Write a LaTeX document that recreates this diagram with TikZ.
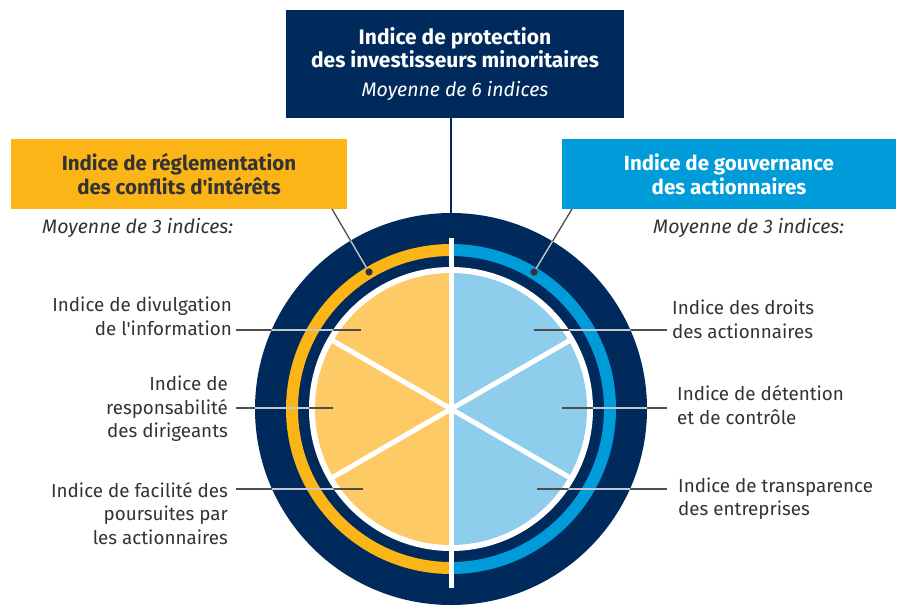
\documentclass[tikz,border=0pt]{standalone}
\usepackage{fontspec}
\setmainfont{Fira Sans}[Ligatures=TeXOff]
\usetikzlibrary{calc}
\definecolor{navy}{HTML}{002A5C}
\definecolor{ringY}{HTML}{FBB517}
\definecolor{ringB}{HTML}{009CDA}
\definecolor{pieY}{HTML}{FDCA66}
\definecolor{pieB}{HTML}{8ECDEC}
\definecolor{txt}{HTML}{333333}
\definecolor{lead}{HTML}{4D4D4D}
\definecolor{leadlight}{HTML}{C4C8CF}
\tikzset{
  titlebox/.style={fill=navy,text=white,minimum width=338pt,minimum height=108pt,align=center,inner sep=0pt,
    font=\fontsize{21}{23.5}\selectfont},
  yellowbox/.style={fill=ringY,text=txt,minimum width=336pt,minimum height=70pt,align=center,inner sep=0pt,
    font=\fontsize{20.5}{24}\selectfont\bfseries},
  bluebox/.style={fill=ringB,text=white,minimum width=334pt,minimum height=70pt,align=center,inner sep=0pt,
    font=\fontsize{20.5}{24}\selectfont\bfseries},
  avg/.style={text=txt,inner sep=0pt,font=\fontsize{19.5}{22}\selectfont\itshape},
  lablL/.style={text=txt,inner sep=0pt,align=right,anchor=east,font=\fontsize{18.8}{23.5}\selectfont},
  lablR/.style={text=txt,inner sep=0pt,align=left,anchor=west,font=\fontsize{18.8}{23.5}\selectfont},
  leader/.style={draw=lead,line width=1.3pt},
  leaderlight/.style={draw=leadlight,line width=1.3pt},
  sep/.style={draw=white,line width=5pt},
  dot/.style={circle,fill=txt,inner sep=0pt,minimum size=7pt},
}
\begin{document}
\begin{tikzpicture}[x=1pt,y=-1pt]
\useasboundingbox (0,0) rectangle (899,614);
\coordinate (c) at (451,409);
% circle
\fill[navy] (c) circle[radius=196];
\draw[ringY,line width=12pt] ($(c)+(0,-159)$) arc[start angle=270,end angle=90,radius=159];
\draw[ringB,line width=12pt] ($(c)+(0,-159)$) arc[start angle=-90,end angle=90,radius=159];
\fill[white] (c) circle[radius=142];
\fill[pieY] ($(c)+(0,-136)$) arc[start angle=270,end angle=90,radius=136] -- cycle;
\fill[pieB] ($(c)+(0,-136)$) arc[start angle=-90,end angle=90,radius=136] -- cycle;
\draw[sep] ($(c)+(30:140)$) -- ($(c)+(210:140)$);
\draw[sep] ($(c)+(150:140)$) -- ($(c)+(330:140)$);
\draw[sep] (451,238) -- (451,588);
% boxes
\node[titlebox] (top) at (455,64) {\textbf{Indice de protection}\\ \textbf{des investisseurs minoritaires}\\[5pt] {\fontsize{19.5}{22}\selectfont\itshape Moyenne de 6 indices}};
\node[yellowbox] (conf) at (179,174) {Indice de réglementation\\ des conflits d'intérêts};
\node[bluebox] (gouv) at (729,174) {Indice de gouvernance\\ des actionnaires};
\node[avg,anchor=west] (avgL) at (42,228) {Moyenne de 3 indices:};
\node[avg,anchor=west] (avgR) at (653,228) {Moyenne de 3 indices:};
% labels
\node[lablL] (l1) at (232,316.5) {Indice de divulgation\\ de l'information};
\node[lablL] (l2) at (228,409) {Indice de\\ responsabilité\\ des dirigeants};
\node[lablL] (l3) at (228,513.5) {Indice de facilité des\\ poursuites par\\ les actionnaires};
\node[lablR] (r1) at (672,319.5) {Indice des droits\\ des actionnaires};
\node[lablR] (r2) at (677,405) {Indice de détention\\ et de contrôle};
\node[lablR] (r3) at (678,498.5) {Indice de transparence\\ des entreprises};
% leader end points
\coordinate (p1) at (361,330);
\coordinate (p2) at (333,408);
\coordinate (p3) at (363,489);
\coordinate (q1) at (534,330);
\coordinate (q2) at (562,408);
\coordinate (q3) at (537,489);
\coordinate (s1) at (236,330);
\coordinate (s2) at (236,408);
\coordinate (s3) at (236,489);
\coordinate (t1) at (667,330);
\coordinate (t2) at (667,408);
\coordinate (t3) at (667,489);
\node[dot] (dY) at (369,272) {};
\node[dot] (dB) at (534,272) {};
\coordinate (bY) at (332,209);
\coordinate (bB) at (572,209);
% leaders
\foreach \a/\b in {p1/s1,p2/s2,p3/s3,q1/t1,q2/t2,q3/t3,dY.center/bY,dB.center/bB}{
  \draw[leader] (\a) -- (\b);
}
\begin{scope}[even odd rule]
\clip (c) circle[radius=196] (c) circle[radius=142];
\foreach \a/\b in {p1/s1,p2/s2,p3/s3,q1/t1,q2/t2,q3/t3,dY.center/bY,dB.center/bB}{
  \draw[leaderlight] (\a) -- (\b);
}
\end{scope}
\node[dot] at (dY) {};
\node[dot] at (dB) {};
% top connector
\draw[navy,line width=2pt] (c |- top.south) -- ($(c)+(0,-195)$);
\end{tikzpicture}
\end{document}
